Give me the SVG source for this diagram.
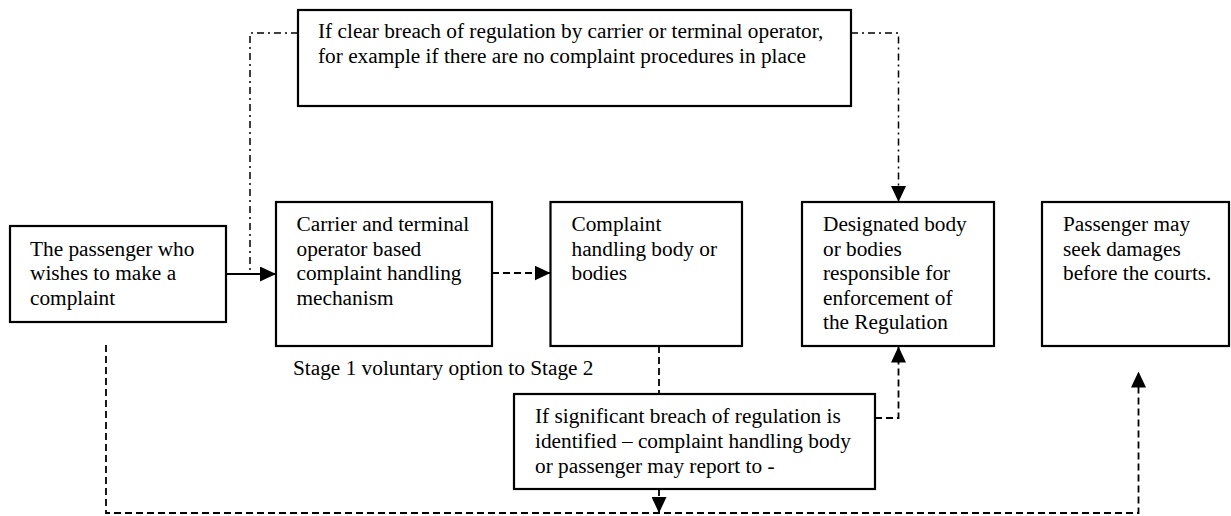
<svg xmlns="http://www.w3.org/2000/svg" width="1231" height="516" viewBox="0 0 1231 516">
<style>
.box{fill:#fff;stroke:#000;stroke-width:2.2}
.t{font-family:"Liberation Serif","Times New Roman",serif;font-size:21.3px;fill:#000}
.solid{fill:none;stroke:#000;stroke-width:2}
.dash{fill:none;stroke:#000;stroke-width:1.8;stroke-dasharray:7,4}
.dashdot{fill:none;stroke:#000;stroke-width:1.5;stroke-dasharray:7,4,2,4}
</style>
<defs>
<marker id="ah" markerUnits="userSpaceOnUse" markerWidth="16" markerHeight="15" refX="16" refY="7.5" orient="auto">
<path d="M0,0 L16,7.5 L0,15 z" fill="#000"/>
</marker>
</defs>
<rect width="1231" height="516" fill="#fff"/>
<g id="connectors">
<path class="dashdot" d="M298,33 H250 V274"/>
<path class="dashdot" d="M851,33 H898.5 V202" marker-end="url(#ah)"/>
<path class="solid" d="M226,274 H276" marker-end="url(#ah)"/>
<path class="dash" d="M492,273 H550.5" marker-end="url(#ah)"/>
<path class="dash" d="M659,346 V394"/>
<path class="dash" d="M875,418 H898.5 V346.5" marker-end="url(#ah)"/>
<path class="dash" d="M659,489 V513" marker-end="url(#ah)"/>
<path class="dash" d="M106,345 V513 H1138.5 V371.5" marker-end="url(#ah)"/>
</g>
<g id="top-breach">
<rect class="box" x="298" y="10" width="553" height="96"/>
<text class="t" x="318" y="38">If clear breach of regulation by carrier or terminal operator,</text>
<text class="t" x="318" y="62.5">for example if there are no complaint procedures in place</text>
</g>
<g id="passenger">
<rect class="box" x="10" y="226" width="216" height="96"/>
<text class="t" x="30" y="255.5">The passenger who</text>
<text class="t" x="30" y="280">wishes to make a</text>
<text class="t" x="30" y="304.5">complaint</text>
</g>
<g id="carrier">
<rect class="box" x="276" y="202" width="216" height="144"/>
<text class="t" x="296.5" y="231">Carrier and terminal</text>
<text class="t" x="296.5" y="255.5">operator based</text>
<text class="t" x="296.5" y="280">complaint handling</text>
<text class="t" x="296.5" y="304.5">mechanism</text>
</g>
<g id="complaint-body">
<rect class="box" x="550.5" y="202" width="191.5" height="144"/>
<text class="t" x="571.5" y="231">Complaint</text>
<text class="t" x="571.5" y="255.5">handling body or</text>
<text class="t" x="571.5" y="280">bodies</text>
</g>
<g id="designated">
<rect class="box" x="802" y="202" width="192" height="144"/>
<text class="t" x="823" y="231">Designated body</text>
<text class="t" x="823" y="255.5">or bodies</text>
<text class="t" x="823" y="280">responsible for</text>
<text class="t" x="823" y="304.5">enforcement of</text>
<text class="t" x="823" y="329">the Regulation</text>
</g>
<g id="courts">
<rect class="box" x="1042" y="202" width="187" height="144"/>
<text class="t" x="1063" y="231">Passenger may</text>
<text class="t" x="1063" y="255.5">seek damages</text>
<text class="t" x="1063" y="280">before the courts.</text>
</g>
<g id="stage-label">
<text class="t" x="293" y="375">Stage 1 voluntary option to Stage 2</text>
</g>
<g id="significant-breach">
<rect class="box" x="514" y="394" width="361" height="95"/>
<text class="t" x="535" y="423">If significant breach of regulation is</text>
<text class="t" x="535" y="448">identified – complaint handling body</text>
<text class="t" x="535" y="473">or passenger may report to -</text>
</g>
</svg>
